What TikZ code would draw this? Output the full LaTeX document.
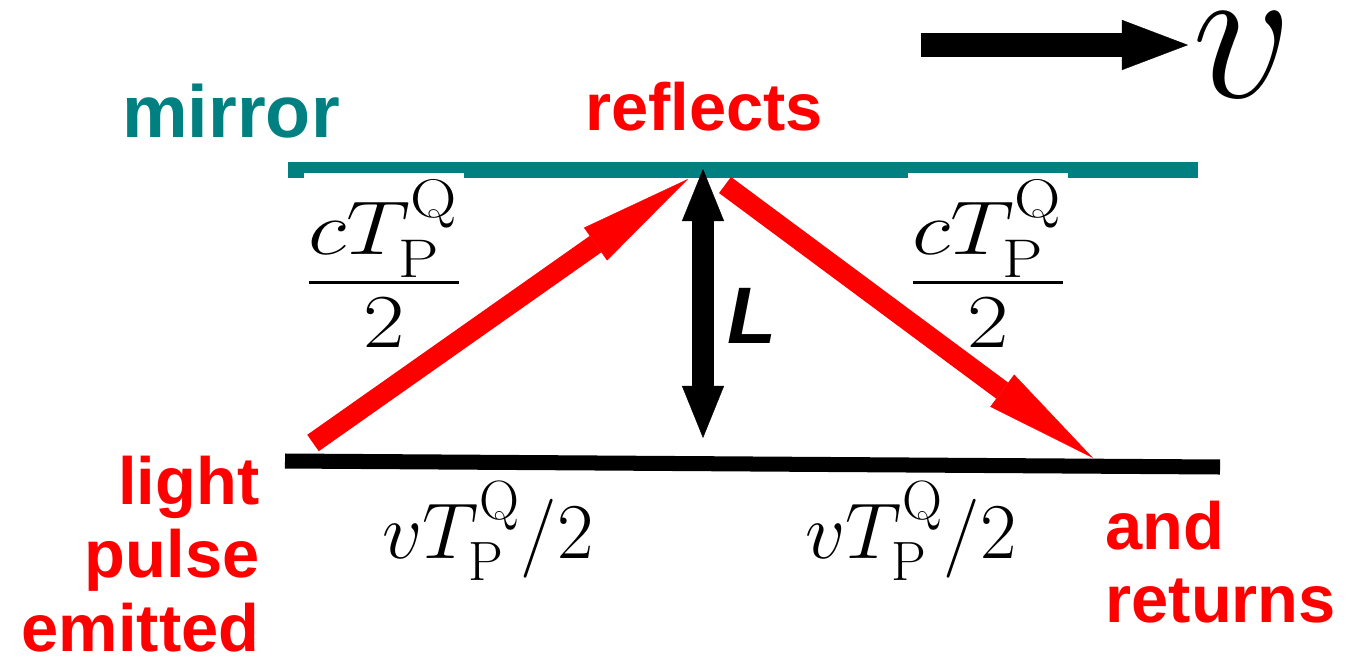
\RequirePackage{fix-cm}
\documentclass[tikz,border=0pt]{standalone}
\usepackage{fontspec}
\usepackage{amsmath}
\newfontfamily\labelfont{Liberation Sans}
\definecolor{mirrorTeal}{RGB}{0, 128, 128}
\definecolor{pulseRed}{RGB}{255, 0, 0}
\usetikzlibrary{arrows.meta}

\begin{document}
\begin{tikzpicture}[
    x=0.01cm, y=-0.01cm,
    surface/.style={line width=4.27pt},
    beam/.style={draw=pulseRed, line width=5.7pt,
                 -{Triangle[length=1.13cm, width=0.40cm, line width=0.1pt]}},
    heightarrow/.style={line width=6.26pt,
                 {Triangle[length=0.52cm, width=0.42cm, line width=0.1pt]}-{Triangle[length=0.52cm, width=0.42cm, line width=0.1pt]}},
    motion/.style={line width=7.1pt,
                 -{Triangle[length=0.66cm, width=0.50cm, line width=0.1pt]}},
    event/.style={text=pulseRed, inner sep=0pt,
                  font=\labelfont\bfseries\fontsize{19pt}{21pt}\selectfont},
    eqn/.style={inner sep=0pt, font=\fontsize{22.5pt}{26pt}\selectfont},
    ratio/.style={inner sep=0pt, fill=white, inner ysep=2pt,
                  xscale=1.18, transform shape,
                  font=\fontsize{31pt}{36pt}\selectfont},
  ]
    \useasboundingbox (0,0) rectangle (1346,664);

    \coordinate (mirrorL) at (288,170);
    \coordinate (mirrorR) at (1198,170);
    \coordinate (floorL) at (285,461);
    \coordinate (floorR) at (1220,467);
    \draw[surface, mirrorTeal] (mirrorL) -- (mirrorR);
    \draw[surface, black] (floorL) -- (floorR);

    \node[ratio, anchor=base] (upL) at (384,310)
      {$\frac{cT_{\mathrm{P}}^{\mathrm{Q}}}{2}$};
    \node[ratio, anchor=base] (upR) at (988,310)
      {$\frac{cT_{\mathrm{P}}^{\mathrm{Q}}}{2}$};
    \node[eqn, anchor=base] (walkL) at (488,558) {$vT_{\mathrm{P}}^{\mathrm{Q}}/2$};
    \node[eqn, anchor=base] (walkR) at (911,558) {$vT_{\mathrm{P}}^{\mathrm{Q}}/2$};

    \coordinate (emit) at (313,443);
    \coordinate (arrive) at (688,179);
    \coordinate (leave) at (725,185);
    \coordinate (return) at (1093,458);
    \draw[beam] (emit) -- (arrive);
    \draw[beam] (leave) -- (return);

    \coordinate (reflTop) at (703,169);
    \coordinate (reflBot) at (703,438);
    \draw[heightarrow] (reflTop) -- (reflBot);
    \node[inner sep=0pt, anchor=base west,
          font=\labelfont\bfseries\itshape\fontsize{22.8pt}{26pt}\selectfont]
      (len) at (727,343) {L};

    \node[inner sep=0pt, anchor=base west, font=\fontsize{56pt}{60pt}\selectfont]
      (vel) at (1192,98) {$v$};
    \coordinate (vtail) at (921,45);
    \draw[motion] (vtail) -- ([xshift=-0.04cm]vtail -| vel.west);

    \node[inner sep=0pt, anchor=base, text=mirrorTeal,
          font=\labelfont\bfseries\fontsize{21pt}{24pt}\selectfont]
      (mirror) at (231,137) {mirror};
    \node[event, anchor=base] (reflects) at (704,130) {reflects};
    \node[event, anchor=north east, align=right] (emitted) at (260,455)
      {light\\pulse\\emitted};
    \node[event, anchor=north west, align=left] (returns) at (1105,500)
      {and\\returns};
  \end{tikzpicture}
\end{document}
